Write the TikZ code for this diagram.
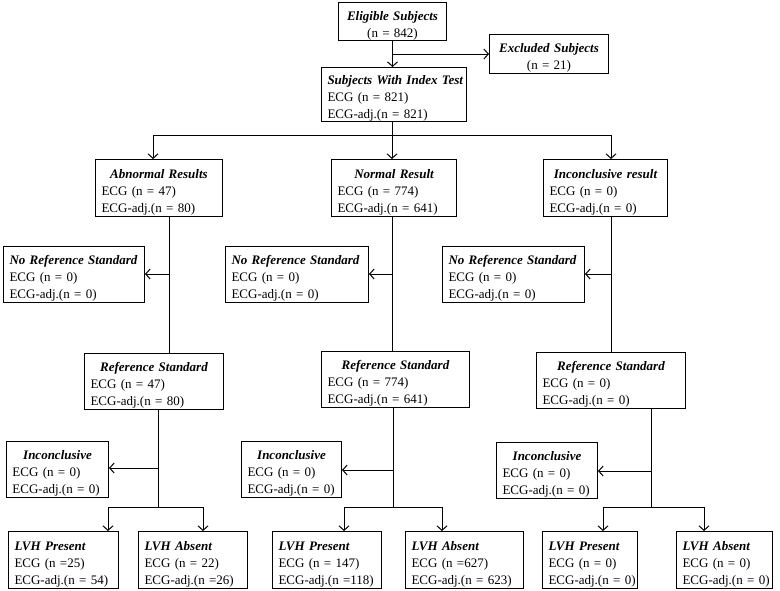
\documentclass[tikz,border=0pt]{standalone}
\usepackage{fontspec}
\setmainfont{Liberation Serif}
\usetikzlibrary{arrows.meta}
\newcommand{\ctl}[1]{\makebox[\linewidth]{\rule{0pt}{17pt}\bfseries\itshape #1}}
\newcommand{\ltl}[1]{\mbox{\rule{0pt}{17pt}\bfseries\itshape #1}}
\newcommand{\bxc}[3]{\ctl{#1}\\\mbox{#2}\\\mbox{#3}}
\newcommand{\bxl}[3]{\ltl{#1}\\\mbox{#2}\\\mbox{#3}}
\tikzset{
  box/.style={draw, line width=1pt, anchor=north west, inner xsep=6pt, inner ysep=0pt, align=left, font=\fontsize{13}{17}\selectfont},
  wh/.code 2 args={\pgfmathsetmacro\tw{#1-12}\edef\tmp{\noexpand\tikzset{minimum width=#1pt, minimum height=#2pt, text width=\tw pt}}\tmp},
  ln/.style={line width=1pt},
  arr/.style={line width=1pt, -{Straight Barb[length=4.5pt,width=10pt]}}
}
\begin{document}
\begin{tikzpicture}[x=1pt,y=-1pt]
\useasboundingbox (0,0) rectangle (780,590);
% top
\node[box, wh={108}{38}, align=center] (elig) at (338,2) {\ltl{Eligible Subjects}\\(n = 842)};
\node[box, wh={119}{39}, align=center] (excl) at (489,34) {\ltl{Excluded Subjects}\\(n = 21)};
\node[box, wh={145}{53}] (index) at (321,67) {\bxl{Subjects With Index Test}{ECG (n = 821)}{ECG-adj.(n = 821)}};
% level 2
\node[box, wh={127}{57}] (abn) at (95,159) {\bxc{Abnormal Results}{ECG (n = 47)}{ECG-adj.(n = 80)}};
\node[box, wh={125}{57}] (norm) at (331,159) {\bxc{Normal Result}{ECG (n = 774)}{ECG-adj.(n = 641)}};
\node[box, wh={124}{57}] (incres) at (543,159) {\bxc{Inconclusive result}{ECG (n = 0)}{ECG-adj.(n = 0)}};
% no reference
\node[box, wh={141}{56}] (noref1) at (3,246) {\bxl{No Reference Standard}{ECG (n = 0)}{ECG-adj.(n = 0)}};
\node[box, wh={143}{56}] (noref2) at (225,246) {\bxl{No Reference Standard}{ECG (n = 0)}{ECG-adj.(n = 0)}};
\node[box, wh={142}{56}] (noref3) at (442,246) {\bxl{No Reference Standard}{ECG (n = 0)}{ECG-adj.(n = 0)}};
% reference standard
\node[box, wh={139}{56}] (ref1) at (84,353) {\bxc{Reference Standard}{ECG (n = 47)}{ECG-adj.(n = 80)}};
\node[box, wh={148}{56}] (ref2) at (321,351) {\bxc{Reference Standard}{ECG (n = 774)}{ECG-adj.(n = 641)}};
\node[box, wh={149}{56}] (ref3) at (536,352) {\bxc{Reference Standard}{ECG (n = 0)}{ECG-adj.(n = 0)}};
% inconclusive
\node[box, wh={102}{56}] (inc1) at (6,441) {\bxc{Inconclusive}{ECG (n = 0)}{ECG-adj.(n = 0)}};
\node[box, wh={100}{56}] (inc2) at (241,441) {\bxc{Inconclusive}{ECG (n = 0)}{ECG-adj.(n = 0)}};
\node[box, wh={101}{56}] (inc3) at (496,442) {\bxc{Inconclusive}{ECG (n = 0)}{ECG-adj.(n = 0)}};
% LVH
\node[box, wh={110}{57}] (lp1) at (8,531) {\bxl{LVH Present}{ECG (n =25)}{ECG-adj.(n = 54)}};
\node[box, wh={109}{57}] (la1) at (138,531) {\bxl{LVH Absent}{ECG (n = 22)}{ECG-adj.(n =26)}};
\node[box, wh={109}{57}] (lp2) at (272,531) {\bxl{LVH Present}{ECG (n = 147)}{ECG-adj.(n =118)}};
\node[box, wh={118}{57}] (la2) at (405,531) {\bxl{LVH Absent}{ECG (n =627)}{ECG-adj.(n = 623)}};
\node[box, wh={95}{57}, inner xsep=5pt] (lp3) at (542,531) {\bxl{LVH Present}{ECG (n = 0)}{ECG-adj.(n = 0)}};
\node[box, wh={96}{57}, inner xsep=5pt] (la3) at (676,531) {\bxl{LVH Absent}{ECG (n = 0)}{ECG-adj.(n = 0)}};
% coordinates
\coordinate (jEx) at (elig.south |- excl.west);
\coordinate (br) at (392,135);
\coordinate (xA) at (153,135);
\coordinate (xC) at (611,135);
\coordinate (c1) at (169,274);
\coordinate (c2) at (392,274);
\coordinate (c3) at (611,274);
\coordinate (d1) at (158,468);
\coordinate (d2) at (393,470);
\coordinate (d3) at (651,471);
\coordinate (e1) at (158,507);
\coordinate (e2) at (393,507);
\coordinate (e3) at (651,507);
\coordinate (f1) at (108,507);
\coordinate (g1) at (203,507);
\coordinate (f2) at (344,507);
\coordinate (g2) at (442,507);
\coordinate (f3) at (603,507);
\coordinate (g3) at (704,507);
% connectors top
\draw[arr] (elig.south) -- (elig.south |- index.north);
\draw[arr] (jEx) -- (excl.west);
\draw[ln] (index.south -| br) -- (br);
\draw[arr] (br) -- (xA) -- (xA |- abn.north);
\draw[arr] (br) -- (br |- norm.north);
\draw[arr] (br) -- (xC) -- (xC |- incres.north);
% columns
\draw[ln] (abn.south -| c1) -- (ref1.north -| c1);
\draw[ln] (norm.south -| c2) -- (ref2.north -| c2);
\draw[ln] (incres.south -| c3) -- (ref3.north -| c3);
\draw[arr] (c1) -- (c1 -| noref1.east);
\draw[arr] (c2) -- (c2 -| noref2.east);
\draw[arr] (c3) -- (c3 -| noref3.east);
\draw[ln] (ref1.south -| e1) -- (e1);
\draw[ln] (ref2.south -| e2) -- (e2);
\draw[ln] (ref3.south -| e3) -- (e3);
\draw[arr] (d1) -- (d1 -| inc1.east);
\draw[arr] (d2) -- (d2 -| inc2.east);
\draw[arr] (d3) -- (d3 -| inc3.east);
\draw[ln] (f1) -- (g1);
\draw[ln] (f2) -- (g2);
\draw[ln] (f3) -- (g3);
\draw[arr] (f1) -- (f1 |- lp1.north);
\draw[arr] (g1) -- (g1 |- la1.north);
\draw[arr] (f2) -- (f2 |- lp2.north);
\draw[arr] (g2) -- (g2 |- la2.north);
\draw[arr] (f3) -- (f3 |- lp3.north);
\draw[arr] (g3) -- (g3 |- la3.north);
\end{tikzpicture}
\end{document}
